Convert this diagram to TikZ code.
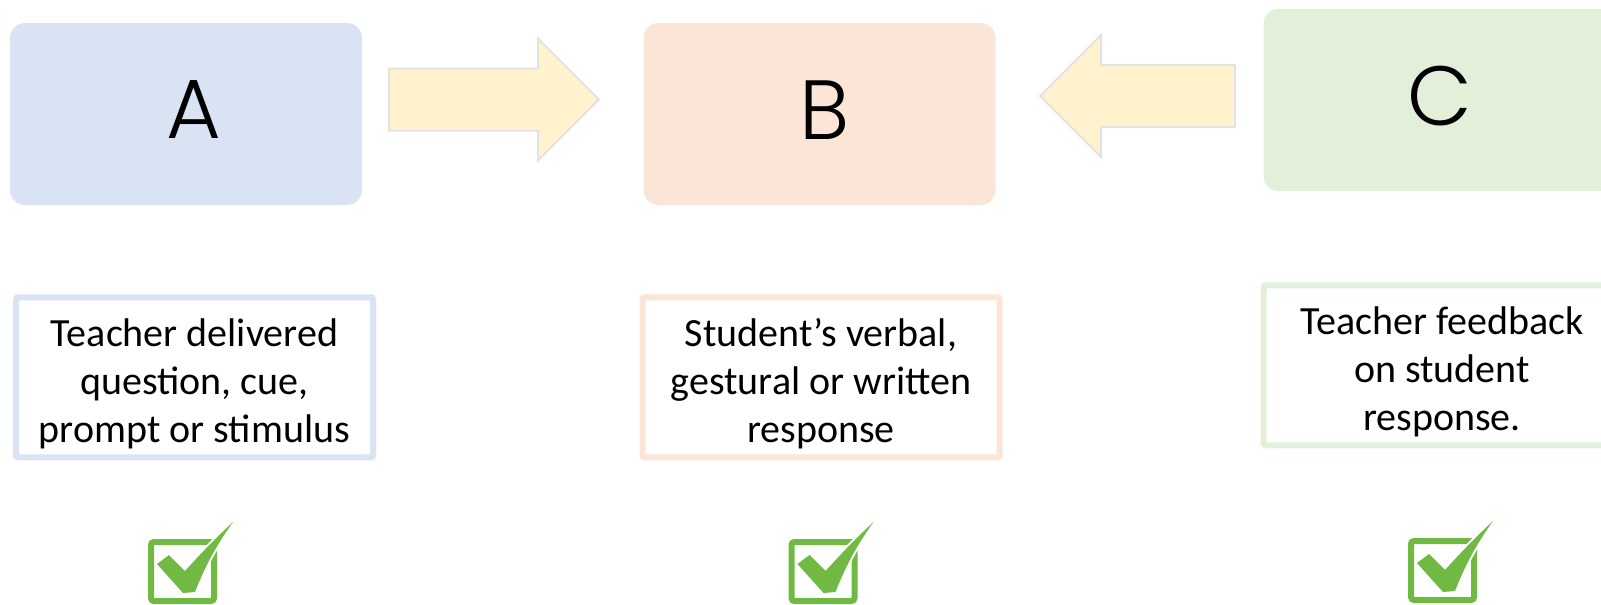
\documentclass[tikz,border=0pt]{standalone}
\usepackage{fontspec}
\setmainfont{Carlito}
\newfontfamily\letterfont{Poppins Light}
\usetikzlibrary{positioning,shapes,arrows}

\definecolor{boxblue}{HTML}{DAE3F3}
\definecolor{boxorange}{HTML}{FBE5D6}
\definecolor{boxgreen}{HTML}{E2F0D9}
\definecolor{arrowyellow}{HTML}{FFF2CC}
\definecolor{arrowgrey}{HTML}{E3E3E3}
\definecolor{tickgreen}{RGB}{112,185,66}

% extra room above the first line of a text box
\newcommand{\topgap}{\rule{0pt}{40pt}}

% green tick over a check box node
\newcommand{\tickmark}[1]{%
  \fill[tick,shift={(#1.north west)}] (9,25) -- (21,16) -- (37,32)
     .. controls (55,12) and (70,-3) .. (85,-17)
     .. controls (67,8) and (56,30) .. (47,53) -- (35,54) -- cycle;}

\begin{document}
\begin{tikzpicture}[x=1pt,y=-1pt,semithick]
      \tikzstyle{letterbox}=[rounded corners=15pt,minimum width=352pt,minimum height=182pt]
      \tikzstyle{letter}=[font=\letterfont\fontsize{84pt}{90pt}\selectfont,yshift=4pt]
      \tikzstyle{textbox}=[draw,line width=6pt,fill=white,rounded corners=2pt,inner sep=0pt,
                           minimum width=357pt,minimum height=160pt,align=center,
                           font=\fontsize{40pt}{48pt}\selectfont]
      \tikzstyle{blockarrow}=[single arrow,draw=arrowgrey,fill=arrowyellow,line width=2pt,
                              inner xsep=0pt,inner ysep=30pt,single arrow head extend=30pt,
                              single arrow tip angle=90,anchor=tail]
      \tikzstyle{checkbox}=[draw=tickgreen,line width=6pt,rounded corners=3pt,inner sep=0pt,
                            minimum width=63pt,minimum height=59pt]
      \tikzstyle{tick}=[fill=tickgreen,preaction={draw=white,line width=4pt,line join=round}]

      \useasboundingbox (0,0) rectangle (1601,605);

      \node[letterbox] (A)   [fill=boxblue,label={[letter,xshift=8pt]center:A}]   at (186,114)    {};
      \node[letterbox] (B)   [fill=boxorange,label={[letter,xshift=5pt]center:B}] at (819.5,114)  {};
      \node[letterbox] (C)   [fill=boxgreen,label={[letter]center:C}]             at (1439.5,100) {};

      \node[blockarrow] (AtoB) [minimum height=210pt] at (388,99.5) {};
      \node[blockarrow] (CtoB) [minimum height=195pt,shape border rotate=180] at (1236,96) {};

      \node[textbox] (Atext) [draw=boxblue,below=89pt of A,xshift=8.5pt]
            {\topgap Teacher delivered\\question, cue,\\prompt or stimulus};
      \node[textbox] (Btext) [draw=boxorange,below=89pt of B,xshift=1.5pt]
            {\topgap Student’s verbal,\\gestural or written\\response};
      \node[textbox] (Ctext) [draw=boxgreen,below=91pt of C,xshift=2.5pt]
            {\topgap Teacher feedback\\on student\\response.};

      \node[checkbox] (Acheck) at (182.5,571.5) {};
      \node[checkbox] (Bcheck) at (823,571.5)   {};
      \node[checkbox] (Ccheck) at (1442.5,570.5) {};
      \tickmark{Acheck}
      \tickmark{Bcheck}
      \tickmark{Ccheck}
\end{tikzpicture}
\end{document}
